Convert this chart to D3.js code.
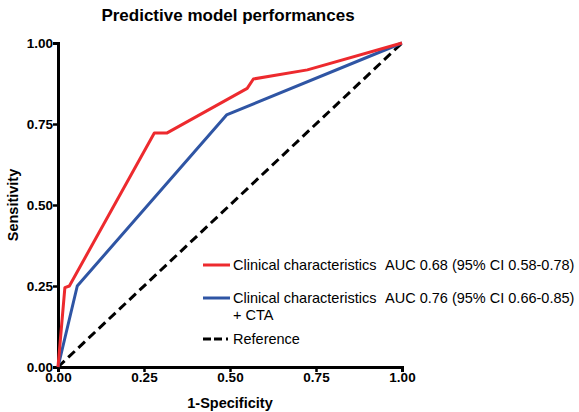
<!DOCTYPE html>
<html lang="en">
<head>
<meta charset="UTF-8">
<title>Predictive model performances</title>
<script src="https://d3js.org/d3.v7.min.js"></script>
<style>
    body { margin: 0; background: #fff; }
    text { font-family: "Liberation Sans", Arial, sans-serif; }
</style>
</head>
<body>
<div id="chart"></div>
<script>
    // ROC curve points (1-specificity, sensitivity)
    const clinicalFpr = [0, 0.02, 0.033, 0.28, 0.316, 0.55, 0.568, 0.725, 1];
    const clinicalTpr = [0, 0.245, 0.25, 0.722, 0.722, 0.86, 0.889, 0.917, 1];
    const ctaFpr = [0, 0.056, 0.49, 1];
    const ctaTpr = [0, 0.25, 0.778, 1];
    const refFpr = [0, 1];
    const refTpr = [0, 1];
    const ticks = [0, 0.25, 0.5, 0.75, 1];

    const width = 579, height = 412;
    const x0 = 58, x1 = 402, y0 = 367, y1 = 43;

    const svg = d3.select("#chart").append("svg")
        .attr("width", width)
        .attr("height", height);

    const x = d3.scaleLinear().domain([0, 1]).range([x0, x1]);
    const y = d3.scaleLinear().domain([0, 1]).range([y0, y1]);

    // title
    svg.append("text")
        .attr("x", 228).attr("y", 21)
        .attr("text-anchor", "middle")
        .attr("font-size", 17).attr("font-weight", "bold")
        .text("Predictive model performances");

    // axes
    const xAxis = svg.append("g")
        .attr("transform", `translate(0,${y0})`)
        .call(d3.axisBottom(x).tickValues(ticks).tickFormat(d3.format(".2f")).tickSizeOuter(0).tickSize(5));
    const yAxis = svg.append("g")
        .attr("transform", `translate(${x0},0)`)
        .call(d3.axisLeft(y).tickValues(ticks).tickFormat(d3.format(".2f")).tickSizeOuter(0).tickSize(5));

    [xAxis, yAxis].forEach(a => {
        a.select(".domain").attr("stroke", "#000").attr("stroke-width", 3);
        a.selectAll(".tick line").attr("stroke", "#000").attr("stroke-width", 2.5);
        a.selectAll(".tick text")
            .attr("font-size", 13.5).attr("font-weight", "bold")
            .attr("fill", "#000")
            .style("font-family", "'Liberation Sans', Arial, sans-serif");
    });
    xAxis.selectAll(".tick text").attr("dy", "0.8em").attr("y", 4);
    yAxis.selectAll(".tick text").attr("x", -5);

    svg.append("text")
        .attr("x", x(0.5)).attr("y", 408)
        .attr("text-anchor", "middle")
        .attr("font-size", 14.5).attr("font-weight", "bold")
        .text("1-Specificity");
    svg.append("text")
        .attr("transform", `translate(18,${y(0.5)}) rotate(-90)`)
        .attr("text-anchor", "middle")
        .attr("font-size", 14.5).attr("font-weight", "bold")
        .text("Sensitivity");

    const line = d3.line().x(d => x(d[0])).y(d => y(d[1]));

    svg.append("path")
        .datum(d3.zip(refFpr, refTpr))
        .attr("d", line)
        .attr("fill", "none").attr("stroke", "#000")
        .attr("stroke-width", 3).attr("stroke-dasharray", "9,5");
    svg.append("path")
        .datum(d3.zip(ctaFpr, ctaTpr))
        .attr("d", line)
        .attr("fill", "none").attr("stroke", "#2f55a4")
        .attr("stroke-width", 3).attr("stroke-linejoin", "round");
    svg.append("path")
        .datum(d3.zip(clinicalFpr, clinicalTpr))
        .attr("d", line)
        .attr("fill", "none").attr("stroke", "#ed2a2e")
        .attr("stroke-width", 3).attr("stroke-linejoin", "round");

    // legend
    const legend = [
        { color: "#ed2a2e", dash: null, lines: ["Clinical characteristics"], auc: "AUC 0.68 (95% CI 0.58-0.78)", y: 265 },
        { color: "#2f55a4", dash: null, lines: ["Clinical characteristics", "+ CTA"], auc: "AUC 0.76 (95% CI 0.66-0.85)", y: 298 },
        { color: "#000", dash: "8,3,8,4,2,20", lines: ["Reference"], auc: null, y: 339 }
    ];
    const lg = svg.append("g");
    legend.forEach(d => {
        lg.append("line")
            .attr("x1", 203).attr("x2", 230)
            .attr("y1", d.y).attr("y2", d.y)
            .attr("stroke", d.color).attr("stroke-width", 3)
            .attr("stroke-dasharray", d.dash);
        d.lines.forEach((t, i) => {
            lg.append("text")
                .attr("x", 233).attr("y", d.y + 5 + i * 17)
                .attr("font-size", 14.5)
                .text(t);
        });
        if (d.auc) {
            lg.append("text")
                .attr("x", 385).attr("y", d.y + 5)
                .attr("font-size", 14.5)
                .text(d.auc);
        }
    });
</script>
</body>
</html>
